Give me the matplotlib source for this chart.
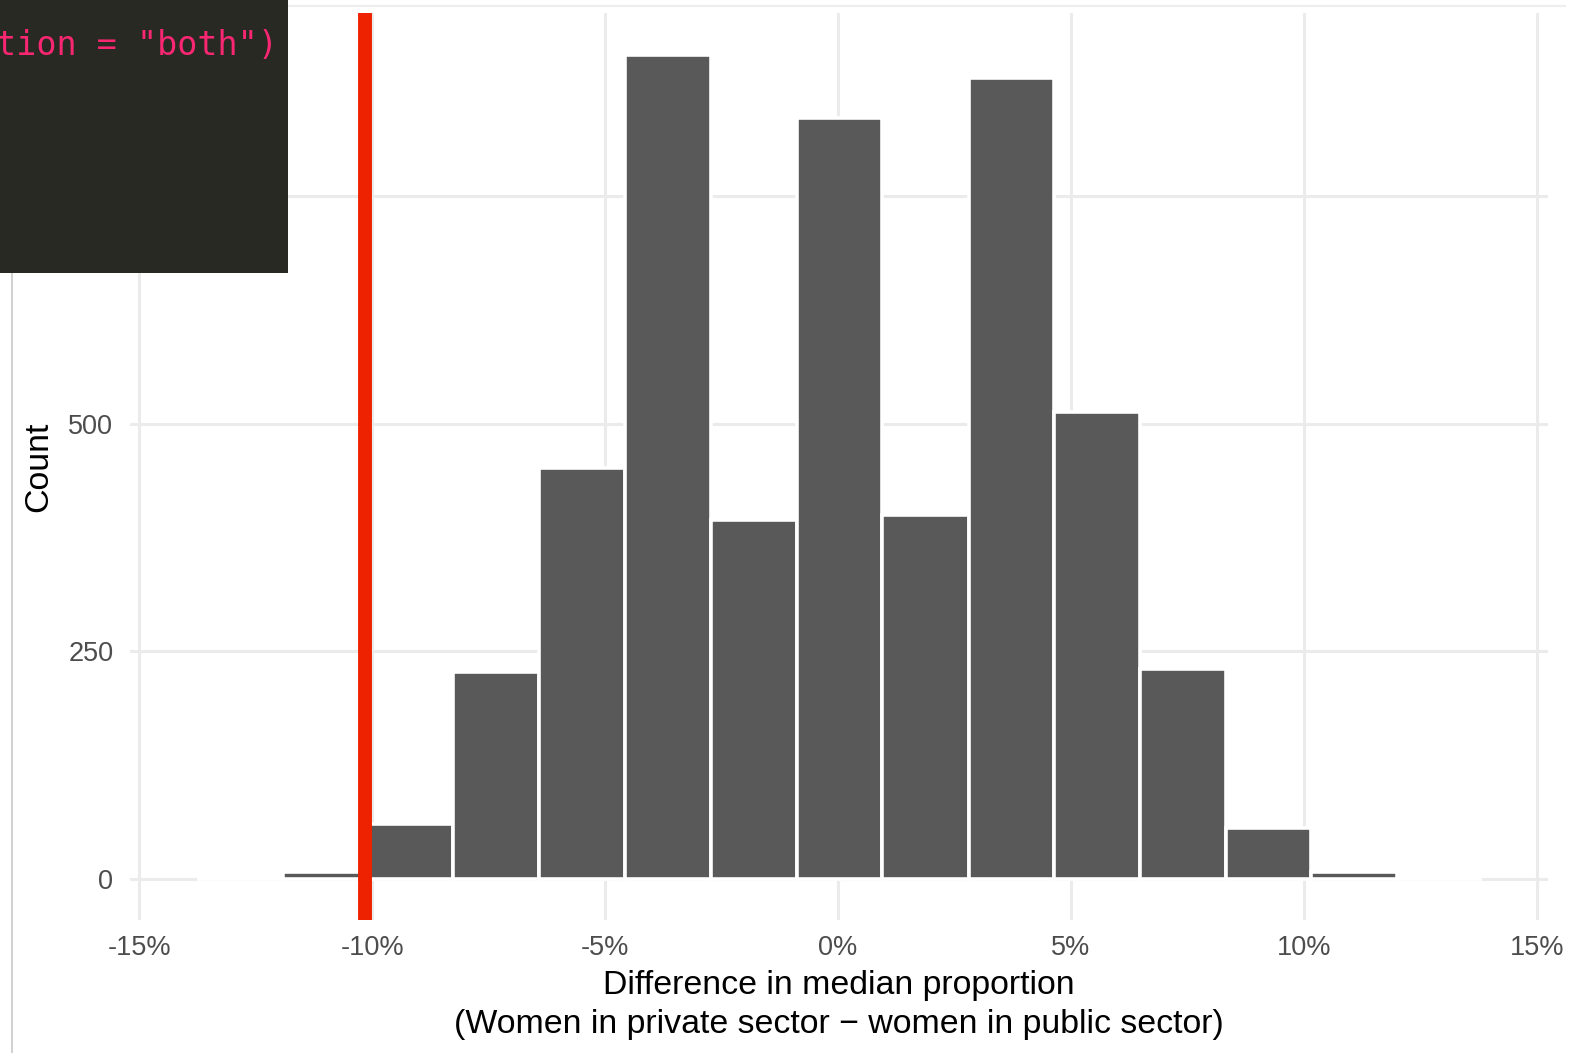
import matplotlib
matplotlib.use("Agg")
import matplotlib.pyplot as plt
from matplotlib.patches import Rectangle
from matplotlib.lines import Line2D

# histogram bins (difference as a fraction)
bin_edges = [-0.1376, -0.1192, -0.1008, -0.0826, -0.0642, -0.0457, -0.0273, -0.0089,
             0.0095, 0.0280, 0.0464, 0.0648, 0.0832, 0.1016, 0.1199, 0.1383]
counts = [0, 7, 60, 227, 451, 906, 394, 836, 400, 880, 513, 231, 56, 8, 0]

observed_diff = -0.1016
x_ticks = [-0.15, -0.10, -0.05, 0.0, 0.05, 0.10, 0.15]
x_tick_labels = ["-15%", "-10%", "-5%", "0%", "5%", "10%", "15%"]
y_ticks = [0, 250, 500, 750]
code_snippet = 'ction = "both")'

plt.rcParams['font.family'] = ['Liberation Sans', 'DejaVu Sans']

fig = plt.figure(figsize=(15.83, 10.53), dpi=100, facecolor='white')
ax = fig.add_axes([130/1583, 1 - 920/1053, (1548-130)/1583, (920-13.3)/1053])
ax.set_facecolor('white')
for s in ax.spines.values():
    s.set_visible(False)

widths = [bin_edges[i+1] - bin_edges[i] for i in range(len(counts))]
ax.bar(bin_edges[:-1], counts, width=widths, align='edge', color='#595959',
       edgecolor='white', linewidth=2.6, zorder=2)

ax.axvline(observed_diff, color='#EE2200', linewidth=10, zorder=3)

ymax = max(counts)
ax.set_ylim(-0.05*ymax, 1.05*ymax)
ax.set_xlim(-0.152, 0.1524)

ax.set_xticks(x_ticks)
ax.set_xticklabels(x_tick_labels)
ax.set_yticks(y_ticks)
ax.set_yticklabels([str(v) for v in y_ticks])
ax.grid(True, color='#EBEBEB', linewidth=2.2, zorder=0)
ax.set_axisbelow(True)
ax.tick_params(length=0, labelsize=19.5, colors='#4D4D4D')
ax.tick_params(axis='x', pad=11)
ax.tick_params(axis='y', pad=12)

ax.set_ylabel("Count", fontsize=24.4, color='black', labelpad=10)
ax.set_xlabel("Difference in median proportion\n(Women in private sector \u2212 women in public sector)",
              fontsize=24.4, color='black', labelpad=6, linespacing=1.33)

# slide frame lines
fig.add_artist(Line2D([12/1583, 12/1583], [0, 1 - 272/1053], transform=fig.transFigure,
                      color='#C8C8C8', linewidth=1.2))
fig.add_artist(Line2D([288/1583, 1565/1583], [1 - 6/1053, 1 - 6/1053], transform=fig.transFigure,
                      color='#EEEEEE', linewidth=1.5))

# dark code box overlay in the corner
fig.add_artist(Rectangle((0, 1 - 272.7/1053), 288/1583, 272.7/1053, transform=fig.transFigure,
                         facecolor='#282923', edgecolor='none', zorder=10))
fig.text(278/1583, 1 - 55/1053, code_snippet, ha='right', va='baseline', fontsize=24,
         family='DejaVu Sans Mono', color='#F92672', zorder=11)

fig.savefig('out.png', dpi=100, facecolor='white')
